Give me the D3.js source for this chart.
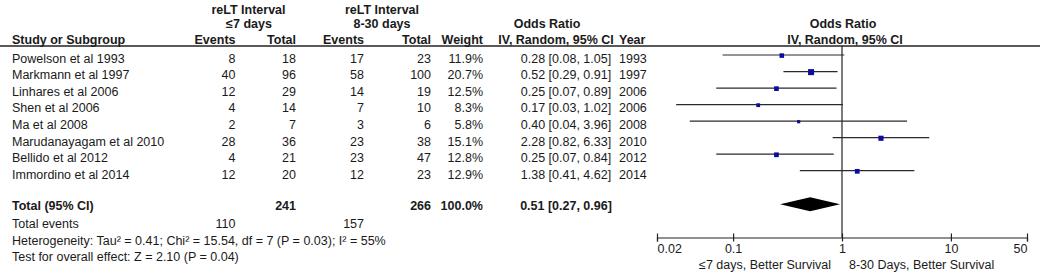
<!DOCTYPE html>
<html>
<head>
<meta charset="utf-8">
<script src="https://cdn.jsdelivr.net/npm/d3@7"></script>
<style>
  body { margin: 0; background: #fff; }
  svg { display: block; font-family: "Liberation Sans", Arial, sans-serif; }
</style>
</head>
<body>
<div id="chart"></div>
<script>
// forest plot: reLT interval <=7 days vs 8-30 days
const studies = ["Powelson et al 1993", "Markmann et al 1997", "Linhares et al 2006", "Shen et al 2006",
    "Ma et al 2008", "Marudanayagam et al 2010", "Bellido et al 2012", "Immordino et al 2014"];
const events_early = [8, 40, 12, 4, 2, 28, 4, 12];
const total_early = [18, 96, 29, 14, 7, 36, 21, 20];
const events_late = [17, 58, 14, 7, 3, 23, 23, 12];
const total_late = [23, 100, 19, 10, 6, 38, 47, 23];
const weights = [11.9, 20.7, 12.5, 8.3, 5.8, 15.1, 12.8, 12.9];
const odds = [0.28, 0.52, 0.25, 0.17, 0.40, 2.28, 0.25, 1.38];
const ci_low = [0.08, 0.29, 0.07, 0.03, 0.04, 0.82, 0.07, 0.41];
const ci_high = [1.05, 0.91, 0.89, 1.02, 3.96, 6.33, 0.84, 4.62];
const years = [1993, 1997, 2006, 2006, 2008, 2010, 2012, 2014];
const pooled = [0.51, 0.27, 0.96]; // estimate, low, high
const pooled_totals = [110, 241, 157, 266];
const axis_ticks = [0.02, 0.1, 1, 10, 50];
const stats_lines = [
    "Heterogeneity: Tau\u00b2 = 0.41; Chi\u00b2 = 15.54, df = 7 (P = 0.03); I\u00b2 = 55%",
    "Test for overall effect: Z = 2.10 (P = 0.04)"
];

const w = 1040;
const h = 274;
const fs = 12.5;
const ink = "#1a1a1a";

const svg = d3.select("#chart").append("svg")
    .attr("width", w)
    .attr("height", h);

const row_y = i => 58.3 + 16.53 * i;   // visual centre of text row
const total_y = 205;
const base = y => y + 4.6;             // baseline for a given centre

function txt(x, y, s, anchor, bold) {
    return svg.append("text")
        .attr("x", x)
        .attr("y", base(y))
        .attr("text-anchor", anchor || "start")
        .attr("fill", ink)
        .style("font-size", fs + "px")
        .style("font-weight", bold ? "bold" : "normal")
        .text(s);
}

// columns
const col = { name: 12, ev1: 235.5, tot1: 296, ev2: 364, tot2: 431, weight: 483, or: 566, year: 619 };

// header
txt(248.5, 9.5, "reLT Interval", "middle", true);
txt(249, 23.5, "\u22647 days", "middle", true);
txt(382, 9.5, "reLT Interval", "middle", true);
txt(382, 23.5, "8-30 days", "middle", true);
txt(547, 23.5, "Odds Ratio", "middle", true);
txt(843, 23.5, "Odds Ratio", "middle", true);

const hy = 39.3;
txt(col.name, hy, "Study or Subgroup", "start", true);
txt(col.ev1, hy, "Events", "end", true);
txt(col.tot1, hy, "Total", "end", true);
txt(col.ev2, hy, "Events", "end", true);
txt(col.tot2, hy, "Total", "end", true);
txt(col.weight, hy, "Weight", "end", true);
txt(556, hy, "IV, Random, 95% CI", "middle", true);
txt(col.year, hy, "Year", "start", true);
txt(845, hy, "IV, Random, 95% CI", "middle", true);

svg.append("line")
    .attr("x1", 0).attr("x2", w)
    .attr("y1", 46).attr("y2", 46)
    .attr("stroke", "#222")
    .attr("stroke-width", 1.6);

// study rows
studies.forEach((s, i) => {
    const y = row_y(i);
    txt(col.name, y, s);
    txt(col.ev1, y, events_early[i], "end");
    txt(col.tot1, y, total_early[i], "end");
    txt(col.ev2, y, events_late[i], "end");
    txt(col.tot2, y, total_late[i], "end");
    txt(col.weight, y, weights[i].toFixed(1) + "%", "end");
    txt(col.or, y, `${odds[i].toFixed(2)} [${ci_low[i].toFixed(2)}, ${ci_high[i].toFixed(2)}]`, "middle");
    txt(col.year, y, years[i]);
});

// totals
txt(col.name, total_y, "Total (95% CI)", "start", true);
txt(col.tot1, total_y, pooled_totals[1], "end", true);
txt(col.tot2, total_y, pooled_totals[3], "end", true);
txt(col.weight, total_y, d3.sum(weights).toFixed(1) + "%", "end", true);
txt(col.or, total_y, `${pooled[0].toFixed(2)} [${pooled[1].toFixed(2)}, ${pooled[2].toFixed(2)}]`, "middle", true);

txt(col.name, row_y(10), "Total events");
txt(col.ev1, row_y(10), pooled_totals[0], "end");
txt(col.ev2, row_y(10), pooled_totals[2], "end");
stats_lines.forEach((s, k) => txt(col.name, row_y(11 + k), s));

// forest panel
const x_scale = d3.scaleLog().domain([0.02, 50]).range([657, 1027]);
const axis_y = 237.5;
const plot_off = -3.3;

svg.append("line")
    .attr("x1", x_scale(1)).attr("x2", x_scale(1))
    .attr("y1", 46).attr("y2", axis_y)
    .attr("stroke", "#222")
    .attr("stroke-width", 1.2);

const rows = studies.map((s, i) => ({ s, i, or: odds[i], lo: ci_low[i], hi: ci_high[i], wt: weights[i] }));

svg.append("g").selectAll("line")
    .data(rows)
    .join("line")
    .attr("x1", d => x_scale(d.lo))
    .attr("x2", d => x_scale(d.hi))
    .attr("y1", d => row_y(d.i) + plot_off)
    .attr("y2", d => row_y(d.i) + plot_off)
    .attr("stroke", "#2a2a2a")
    .attr("stroke-width", 1.2);

const side = d => 1.32 * Math.sqrt(d.wt);
svg.append("g").selectAll("rect")
    .data(rows)
    .join("rect")
    .attr("x", d => x_scale(d.or) - side(d) / 2)
    .attr("y", d => row_y(d.i) + plot_off - side(d) / 2 + 0.6)
    .attr("width", side)
    .attr("height", side)
    .attr("fill", "#0b0ba0");

// pooled diamond
const dy = total_y - 0.7;
svg.append("path")
    .attr("d", d3.line()([
        [x_scale(pooled[1]), dy],
        [x_scale(pooled[0]), dy - 7],
        [x_scale(pooled[2]), dy],
        [x_scale(pooled[0]), dy + 7]
    ]) + "Z")
    .attr("fill", "#000");

// axis
const axis = svg.append("g")
    .attr("transform", `translate(0,${axis_y})`)
    .call(d3.axisBottom(x_scale).tickValues(axis_ticks).tickSize(4).tickFormat(d3.format("")));

axis.select(".domain").attr("stroke", "#222").attr("stroke-width", 1.2);
axis.selectAll(".tick line").attr("y1", -4).attr("stroke", "#222").attr("stroke-width", 1.2);
axis.selectAll(".tick text")
    .attr("y", 0)
    .attr("dy", 0)
    .attr("transform", `translate(0,${base(11)})`)
    .attr("fill", ink)
    .style("font-size", fs + "px")
    .style("font-family", "Liberation Sans, Arial, sans-serif")
    .attr("text-anchor", (d, i) => i === 0 ? "start" : i === axis_ticks.length - 1 ? "end" : "middle");

txt(831, 264, "\u22647 days, Better Survival", "end");
txt(849, 264, "8-30 Days, Better Survival", "start");
</script>
</body>
</html>
